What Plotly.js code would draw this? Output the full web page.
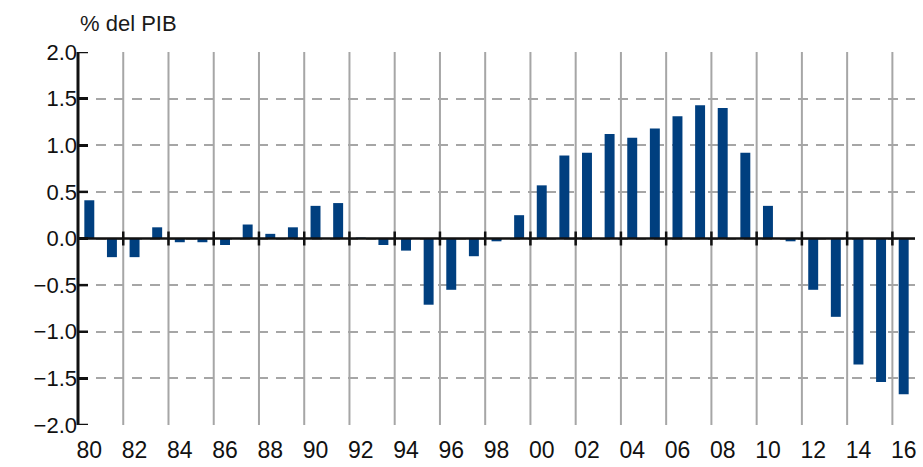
<!DOCTYPE html>
<html>
<head>
<meta charset="utf-8">
<script src="https://cdn.plot.ly/plotly-3.0.1.min.js"></script>
<style>html,body{margin:0;padding:0;background:#fff;}#chart{width:923px;height:467px;}</style>
</head>
<body>
<div id="chart"></div>
<script>
const years = [1980,1981,1982,1983,1984,1985,1986,1987,1988,1989,1990,1991,1992,1993,1994,1995,1996,1997,1998,1999,2000,2001,2002,2003,2004,2005,2006,2007,2008,2009,2010,2011,2012,2013,2014,2015,2016];
const values = [0.41,-0.20,-0.20,0.12,-0.04,-0.04,-0.07,0.15,0.05,0.12,0.35,0.38,0.01,-0.07,-0.13,-0.71,-0.55,-0.19,-0.03,0.25,0.57,0.89,0.92,1.12,1.08,1.18,1.31,1.43,1.40,0.92,0.35,-0.03,-0.55,-0.84,-1.35,-1.54,-1.67];
const tickYears = years.filter(y => y % 2 === 0);
const tickLabels = tickYears.map(y => String(y % 100).padStart(2, '0'));
const gridPos = years.filter(y => y % 2 === 1 && y < 2016).map(y => y + 0.5);
const yTicks = [-2, -1.5, -1, -0.5, 0, 0.5, 1, 1.5, 2];
const yTitle = '% del PIB';

const FONT = 'Liberation Sans, Arial, Helvetica, sans-serif';
const GRID = '#a6a6a6';
const INK = 'rgb(17,17,17)';
const xr = [1979.5, 2016.5];
const plotW = 923 - 78 - 8;

const shapes = [];
gridPos.forEach(p => {
  shapes.push({type: 'line', xref: 'x', yref: 'paper', x0: p, x1: p, y0: 0, y1: 1, layer: 'below', line: {color: GRID, width: 2}});
});
shapes.push({type: 'line', xref: 'paper', yref: 'paper', x0: 0, x1: 0, y0: 0, y1: 1, layer: 'above', line: {color: INK, width: 3}});
yTicks.forEach(v => {
  shapes.push({type: 'line', xref: 'paper', yref: 'y', x0: 0, x1: 10 / plotW, y0: v, y1: v, layer: 'above', line: {color: INK, width: 2.5}});
});
shapes.push({type: 'line', xref: 'paper', yref: 'y', x0: 0, x1: 1, y0: 0, y1: 0, layer: 'above', line: {color: INK, width: 2.5}});
gridPos.forEach(p => {
  shapes.push({type: 'line', xref: 'x', yref: 'y', x0: p, x1: p, y0: -0.075, y1: 0.075, layer: 'above', line: {color: INK, width: 2.5}});
});

const traces = [
  {type: 'bar', x: years, y: values, marker: {color: '#003f7f', line: {width: 0}}, hoverinfo: 'x+y'}
];

const layout = {
  width: 923, height: 467,
  margin: {l: 78, r: 8, t: 52, b: 42},
  paper_bgcolor: '#ffffff', plot_bgcolor: '#ffffff',
  showlegend: false,
  bargap: 0.56,
  font: {family: FONT, color: INK},
  title: {text: yTitle, x: 80/923, xref: 'container', xanchor: 'left', y: 1 - 23/467, yref: 'container', yanchor: 'middle', font: {size: 22, family: FONT, color: '#1a1a1a'}},
  xaxis: {
    range: xr, tickmode: 'array', tickvals: tickYears, ticktext: tickLabels,
    showgrid: false, zeroline: false, showline: false, ticks: '',
    tickfont: {size: 23, family: FONT, color: INK}, ticklabelstandoff: 9, fixedrange: true
  },
  yaxis: {
    range: [-2, 2], tickmode: 'array', tickvals: yTicks, tickformat: '.1f', ticksuffix: '\u00a0\u00a0\u00a0',
    showgrid: true, gridcolor: GRID, gridwidth: 2, griddash: '10px,8px',
    showline: false, zeroline: false,
    ticks: 'inside', ticklen: 10, tickwidth: 2.5, tickcolor: INK,
    tickfont: {size: 22, family: FONT, color: INK}, fixedrange: true
  },
  shapes: shapes
};

Plotly.newPlot('chart', traces, layout, {displayModeBar: false, staticPlot: true});
</script>
</body>
</html>
